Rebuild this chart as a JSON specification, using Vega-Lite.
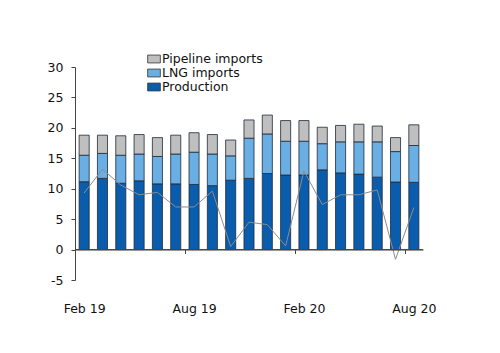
{
  "$schema": "https://vega.github.io/schema/vega-lite/v6.json",
  "width": 348,
  "height": 213,
  "autosize": {"type": "none"},
  "padding": {"left": 75, "top": 67, "right": 77, "bottom": 73},
  "background": "white",
  "config": {
    "view": {"stroke": null},
    "font": "DejaVu Sans",
    "axis": {"labelFont": "DejaVu Sans", "labelFontSize": 12.5, "labelColor": "#111", "domainColor": "#444", "tickColor": "#444", "grid": false, "title": null, "labelOverlap": false}
  },
  "datasets": {
    "bars": [
      {"month": "Feb 19", "series": "Production", "stackOrder": 1, "value": 11.15},
      {"month": "Feb 19", "series": "LNG imports", "stackOrder": 2, "value": 4.35},
      {"month": "Feb 19", "series": "Pipeline imports", "stackOrder": 3, "value": 3.3},
      {"month": "Mar 19", "series": "Production", "stackOrder": 1, "value": 11.7},
      {"month": "Mar 19", "series": "LNG imports", "stackOrder": 2, "value": 4.1},
      {"month": "Mar 19", "series": "Pipeline imports", "stackOrder": 3, "value": 3.0},
      {"month": "Apr 19", "series": "Production", "stackOrder": 1, "value": 10.9},
      {"month": "Apr 19", "series": "LNG imports", "stackOrder": 2, "value": 4.6},
      {"month": "Apr 19", "series": "Pipeline imports", "stackOrder": 3, "value": 3.2},
      {"month": "May 19", "series": "Production", "stackOrder": 1, "value": 11.3},
      {"month": "May 19", "series": "LNG imports", "stackOrder": 2, "value": 4.4},
      {"month": "May 19", "series": "Pipeline imports", "stackOrder": 3, "value": 3.2},
      {"month": "Jun 19", "series": "Production", "stackOrder": 1, "value": 10.8},
      {"month": "Jun 19", "series": "LNG imports", "stackOrder": 2, "value": 4.5},
      {"month": "Jun 19", "series": "Pipeline imports", "stackOrder": 3, "value": 3.1},
      {"month": "Jul 19", "series": "Production", "stackOrder": 1, "value": 10.8},
      {"month": "Jul 19", "series": "LNG imports", "stackOrder": 2, "value": 4.9},
      {"month": "Jul 19", "series": "Pipeline imports", "stackOrder": 3, "value": 3.1},
      {"month": "Aug 19", "series": "Production", "stackOrder": 1, "value": 10.7},
      {"month": "Aug 19", "series": "LNG imports", "stackOrder": 2, "value": 5.3},
      {"month": "Aug 19", "series": "Pipeline imports", "stackOrder": 3, "value": 3.2},
      {"month": "Sep 19", "series": "Production", "stackOrder": 1, "value": 10.5},
      {"month": "Sep 19", "series": "LNG imports", "stackOrder": 2, "value": 5.2},
      {"month": "Sep 19", "series": "Pipeline imports", "stackOrder": 3, "value": 3.2},
      {"month": "Oct 19", "series": "Production", "stackOrder": 1, "value": 11.4},
      {"month": "Oct 19", "series": "LNG imports", "stackOrder": 2, "value": 4.0},
      {"month": "Oct 19", "series": "Pipeline imports", "stackOrder": 3, "value": 2.6},
      {"month": "Nov 19", "series": "Production", "stackOrder": 1, "value": 11.7},
      {"month": "Nov 19", "series": "LNG imports", "stackOrder": 2, "value": 6.6},
      {"month": "Nov 19", "series": "Pipeline imports", "stackOrder": 3, "value": 3.0},
      {"month": "Dec 19", "series": "Production", "stackOrder": 1, "value": 12.5},
      {"month": "Dec 19", "series": "LNG imports", "stackOrder": 2, "value": 6.5},
      {"month": "Dec 19", "series": "Pipeline imports", "stackOrder": 3, "value": 3.1},
      {"month": "Jan 20", "series": "Production", "stackOrder": 1, "value": 12.25},
      {"month": "Jan 20", "series": "LNG imports", "stackOrder": 2, "value": 5.55},
      {"month": "Jan 20", "series": "Pipeline imports", "stackOrder": 3, "value": 3.4},
      {"month": "Feb 20", "series": "Production", "stackOrder": 1, "value": 12.25},
      {"month": "Feb 20", "series": "LNG imports", "stackOrder": 2, "value": 5.55},
      {"month": "Feb 20", "series": "Pipeline imports", "stackOrder": 3, "value": 3.4},
      {"month": "Mar 20", "series": "Production", "stackOrder": 1, "value": 13.1},
      {"month": "Mar 20", "series": "LNG imports", "stackOrder": 2, "value": 4.3},
      {"month": "Mar 20", "series": "Pipeline imports", "stackOrder": 3, "value": 2.7},
      {"month": "Apr 20", "series": "Production", "stackOrder": 1, "value": 12.6},
      {"month": "Apr 20", "series": "LNG imports", "stackOrder": 2, "value": 5.1},
      {"month": "Apr 20", "series": "Pipeline imports", "stackOrder": 3, "value": 2.7},
      {"month": "May 20", "series": "Production", "stackOrder": 1, "value": 12.4},
      {"month": "May 20", "series": "LNG imports", "stackOrder": 2, "value": 5.3},
      {"month": "May 20", "series": "Pipeline imports", "stackOrder": 3, "value": 2.9},
      {"month": "Jun 20", "series": "Production", "stackOrder": 1, "value": 11.9},
      {"month": "Jun 20", "series": "LNG imports", "stackOrder": 2, "value": 5.8},
      {"month": "Jun 20", "series": "Pipeline imports", "stackOrder": 3, "value": 2.6},
      {"month": "Jul 20", "series": "Production", "stackOrder": 1, "value": 11.1},
      {"month": "Jul 20", "series": "LNG imports", "stackOrder": 2, "value": 5.0},
      {"month": "Jul 20", "series": "Pipeline imports", "stackOrder": 3, "value": 2.3},
      {"month": "Aug 20", "series": "Production", "stackOrder": 1, "value": 11.05},
      {"month": "Aug 20", "series": "LNG imports", "stackOrder": 2, "value": 6.05},
      {"month": "Aug 20", "series": "Pipeline imports", "stackOrder": 3, "value": 3.4}
    ],
    "line": [
      {"month": "Feb 19", "value": 9.3},
      {"month": "Mar 19", "value": 13.2},
      {"month": "Apr 19", "value": 10.6},
      {"month": "May 19", "value": 9.0},
      {"month": "Jun 19", "value": 9.4},
      {"month": "Jul 19", "value": 7.0},
      {"month": "Aug 19", "value": 7.0},
      {"month": "Sep 19", "value": 9.6},
      {"month": "Oct 19", "value": 0.5},
      {"month": "Nov 19", "value": 4.5},
      {"month": "Dec 19", "value": 4.1},
      {"month": "Jan 20", "value": 0.6},
      {"month": "Feb 20", "value": 12.9},
      {"month": "Mar 20", "value": 7.4},
      {"month": "Apr 20", "value": 9.0},
      {"month": "May 20", "value": 9.0},
      {"month": "Jun 20", "value": 9.8},
      {"month": "Jul 20", "value": -1.6},
      {"month": "Aug 20", "value": 6.9}
    ]
  },
  "encoding": {
    "x": {
      "field": "month",
      "type": "ordinal",
      "sort": null,
      "scale": {"paddingInner": 0, "paddingOuter": 0},
      "axis": {
        "values": ["Feb 19", "Aug 19", "Feb 20", "Aug 20"],
        "labelAngle": 0,
        "offset": -30.5,
        "domain": true,
        "ticks": true,
        "zindex": 1,
        "tickOffset": -9.16,
        "labelOffset": 9.16,
        "tickSize": 4,
        "labelPadding": 49
      }
    }
  },
  "layer": [
    {
      "data": {"name": "bars"},
      "mark": {"type": "bar", "width": {"band": 0.55}, "stroke": "#1f2a3a", "strokeWidth": 0.8},
      "encoding": {
        "y": {
          "field": "value",
          "type": "quantitative",
          "stack": "zero",
          "scale": {"domain": [-5, 30], "nice": false},
          "axis": {
            "values": [-5, 0, 5, 10, 15, 20, 25, 30],
            "tickCount": 20,
            "tickSize": 4,
            "labelPadding": 8,
            "labelOverlap": false,
            "labelExpr": "datum.value < 0 ? '-' + abs(datum.value) : datum.label"
          }
        },
        "order": {"field": "stackOrder", "type": "quantitative"},
        "color": {
          "field": "series",
          "type": "nominal",
          "scale": {
            "domain": ["Pipeline imports", "LNG imports", "Production"],
            "range": ["#bfbfbf", "#6aafe3", "#0a5cad"]
          },
          "legend": {
            "title": null,
            "orient": "none",
            "legendX": 72,
            "legendY": -15,
            "labelFont": "DejaVu Sans",
            "labelFontSize": 12.5,
            "labelColor": "#111",
            "labelOffset": 1,
            "rowPadding": -1,
            "symbolType": "M-1,-0.62H1V0.62H-1Z",
            "symbolSize": 161,
            "symbolStrokeColor": "#333",
            "symbolStrokeWidth": 0.8
          }
        }
      }
    },
    {
      "data": {"name": "line"},
      "mark": {"type": "line", "color": "#8c8c8c", "strokeWidth": 1},
      "encoding": {
        "y": {"field": "value", "type": "quantitative"}
      }
    },
    {
      "data": {"values": [{"base": 0}]},
      "mark": {"type": "rule", "color": "#444", "strokeWidth": 1},
      "encoding": {
        "x": null,
        "y": {"field": "base", "type": "quantitative"}
      }
    }
  ]
}
